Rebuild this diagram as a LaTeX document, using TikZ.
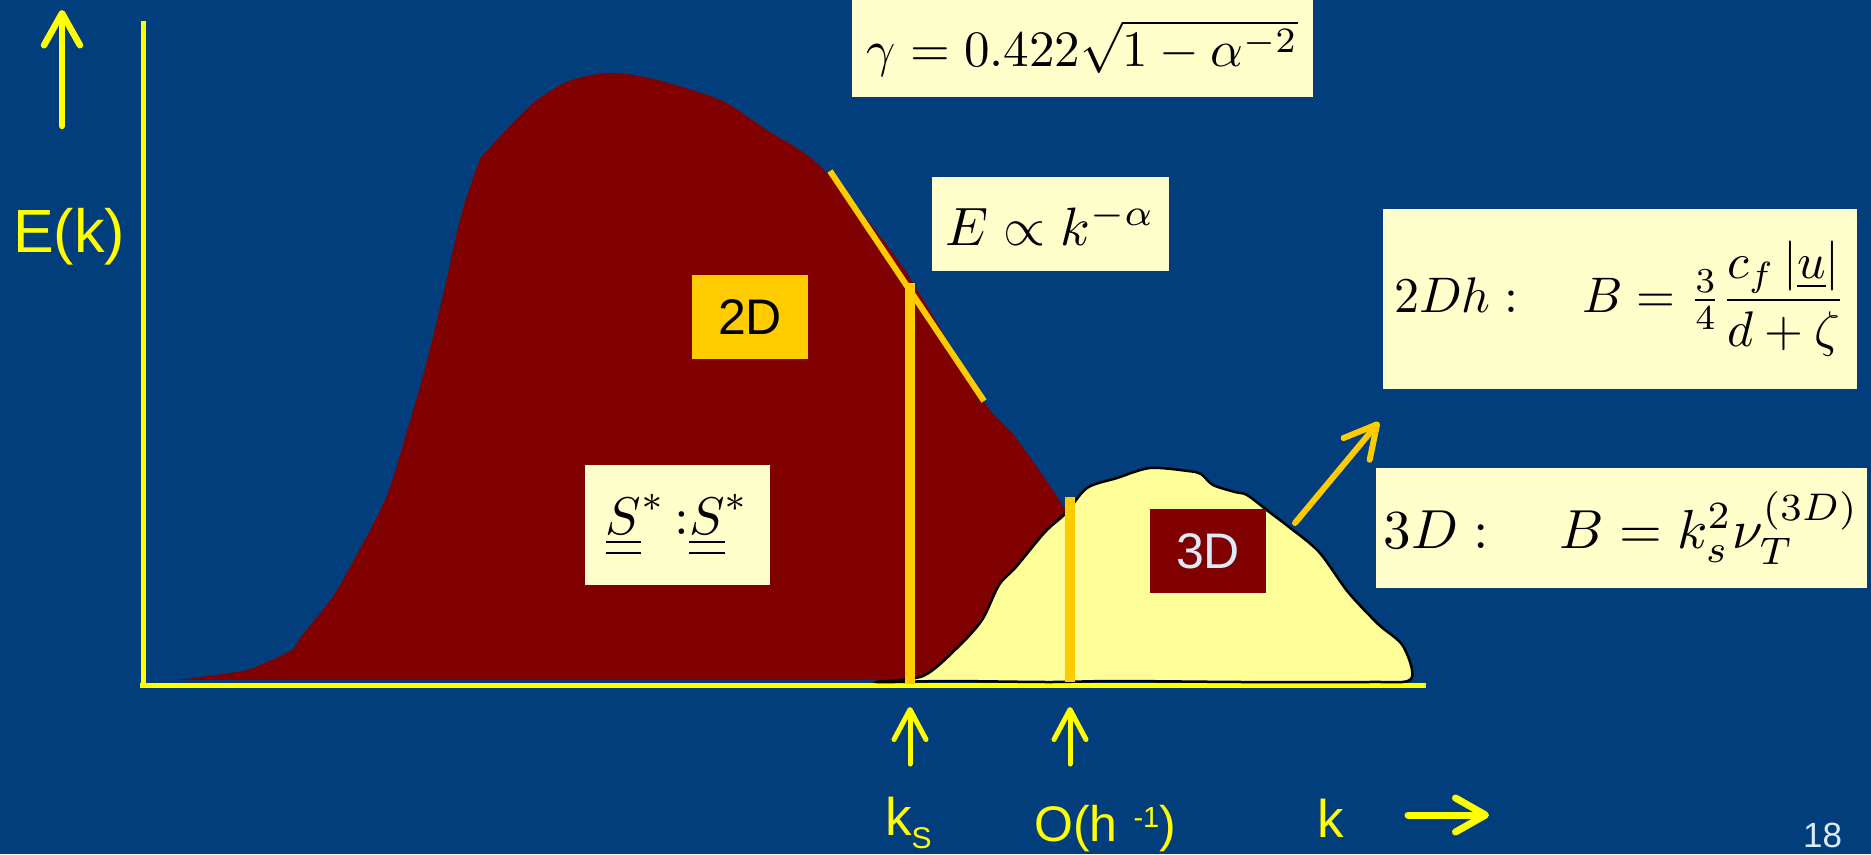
\documentclass[tikz,border=0pt]{standalone}
\usepackage{amsmath}
\usepackage{graphicx}
\usepackage{fontspec}
\setmainfont{Liberation Serif}
\newfontfamily\arialfam{Liberation Sans}
\usetikzlibrary{arrows.meta}
\newcommand{\myfs}[1]{\fontsize{#1}{#1}\selectfont}
\definecolor{bg}{RGB}{2,62,124}
\definecolor{axisyellow}{RGB}{255,255,0}
\definecolor{darkred}{RGB}{128,0,0}
\definecolor{gold}{RGB}{255,204,0}
\definecolor{hump}{RGB}{255,255,153}
\definecolor{paleyellow}{RGB}{255,255,204}
\definecolor{pagenum}{RGB}{220,235,250}
\tikzset{
  axisline/.style={draw=axisyellow, line width=5pt},
  yarrow/.style={draw=axisyellow, line width=6.5pt, line cap=round},
  goldline/.style={draw=gold, line width=6pt},
  goldbar/.style={draw=gold, line width=10pt},
  mathbox/.style={fill=paleyellow, text=black, inner sep=0pt, align=center},
  sanslabel/.style={text=axisyellow, inner sep=0pt, font=\arialfam\myfs{53}},
}
\begin{document}
\begin{tikzpicture}[x=1pt,y=-1pt]
\fill[bg] (0,0) rectangle (1871,854);
\useasboundingbox (0,0) rectangle (1871,854);

% axes
\coordinate (axTop) at (143,21);
\coordinate (axOrigin) at (143,687);
\coordinate (axLeft) at (140,685);
\coordinate (axRight) at (1426,685);
\draw[axisline] (axTop) -- (axOrigin);
\draw[axisline] (axLeft) -- (axRight);

% 2D spectrum (dark red)
\fill[darkred] plot[smooth, tension=0.5] coordinates {(177,680) (243,671) (265,663) (292,650) (301,637) (332,598) (354,560) (386,498) (408,428) (426,365) (444,291) (461,216) (479,162) (486,152) (511,125) (528,108) (540,98) (569,81) (609,73) (653,79) (720,100) (765,129) (822,168) (902,266) (982,399) (1016,438) (1066,511) (1100,580) (1120,680)} -- cycle;

% 3D spectrum (pale yellow hump)
\filldraw[fill=hump, draw=black, line width=2.5pt] plot[smooth cycle, tension=0.5] coordinates {(877,682) (923,676) (957,648) (982,620) (999,585) (1016,567) (1045,532) (1066,513) (1087,488) (1117,478) (1150,468) (1188,471) (1201,474) (1213,485) (1235,492) (1247,495) (1268,511) (1289,527) (1319,552) (1348,592) (1378,624) (1403,646) (1411,679) (1369,682) (1243,682) (1117,681) (1049,682) (948,681)};

% gold lines
\coordinate (tanA) at (830,171);
\coordinate (tanB) at (984,401);
\draw[goldline] (tanA) -- (tanB);
\coordinate (ksTop) at (910,283);
\coordinate (ksBot) at (910,684);
\draw[goldbar] (ksTop) -- (ksBot);
\coordinate (hTop) at (1070,497);
\coordinate (hBot) at (1070,682);
\draw[goldbar] (hTop) -- (hBot);
\coordinate (gArrA) at (1295,523);
\coordinate (gArrB) at (1379,422);
\draw[draw=gold, line width=6pt, line cap=round, -{Straight Barb[length=32pt,width=34pt,round]}] (gArrA) -- (gArrB);

% boxes
\node[mathbox, minimum width=461pt, minimum height=97pt] (gamma) at (1082.5,48.5) {\scalebox{5.1}{$\gamma = 0.422\sqrt{1-\alpha^{-2}}$}};
\node[mathbox, minimum width=237pt, minimum height=94pt] (eprop) at (1050.5,224) {\scalebox{5.4}{$E \propto k^{-\alpha}$}};
\node[mathbox, minimum width=474pt, minimum height=180pt] (twodh) at (1620,299) {\scalebox{5.0}{$2Dh:\quad B=\tfrac{3}{4}\dfrac{c_f\left|\underline{u}\right|}{d+\zeta}$}};
\node[mathbox, minimum width=491pt, minimum height=120pt] (threedb) at (1621.5,528) {\scalebox{5.5}{$3D:\quad B=k_s^2\nu_T^{(3D)}$}};
\node[mathbox, minimum width=185pt, minimum height=120pt] (sss) at (677.5,525) {\scalebox{5.3}{$\underline{\underline{S}}^{*}\,{:}\underline{\underline{S}}^{*}$}};
\node[fill=gold, text=black, inner sep=0pt, minimum width=116pt, minimum height=84pt, font=\arialfam\myfs{50}] (twod) at (750,317) {2D};
\node[fill=darkred, text=pagenum, inner sep=0pt, minimum width=116pt, minimum height=84pt, font=\arialfam\myfs{50}] (threed) at (1208,551) {3D};

% labels
\node[sanslabel, anchor=base west, font=\arialfam\myfs{61}] (ek) at (13,252) {E(k)};
\coordinate (eUpBot) at (62,126);
\coordinate (eUpTop) at (62,10);
\draw[yarrow, -{Straight Barb[length=32pt,width=36pt,round]}] (eUpBot) -- (eUpTop);

\coordinate (ksArrBot) at (910,764);
\coordinate (ksArrTop) at (910,707);
\draw[yarrow, line width=5pt, -{Straight Barb[length=30pt,width=32pt,round]}] (ksArrBot) -- (ksArrTop);
\coordinate (hArrBot) at (1070,764);
\coordinate (hArrTop) at (1070,707);
\draw[yarrow, line width=5pt, -{Straight Barb[length=30pt,width=32pt,round]}] (hArrBot) -- (hArrTop);

\node[sanslabel, anchor=base west] (kslabel) at (885,835) {k\raisebox{-13pt}{\myfs{30}S}};
\node[sanslabel, anchor=base west, font=\arialfam\myfs{50}] (hlabel) at (1034,841) {O(h\hspace{16pt}\raisebox{14pt}{\myfs{29}-1})};
\node[sanslabel, anchor=base west] (klabel) at (1317,837) {k};
\coordinate (kArrL) at (1408,815);
\coordinate (kArrR) at (1489,815);
\draw[yarrow, line width=7pt, -{Straight Barb[length=30pt,width=34pt,round]}] (kArrL) -- (kArrR);

\node[anchor=base west, inner sep=0pt, text=pagenum, font=\arialfam\myfs{35}] (pnum) at (1803,847) {18};
\end{tikzpicture}
\end{document}
